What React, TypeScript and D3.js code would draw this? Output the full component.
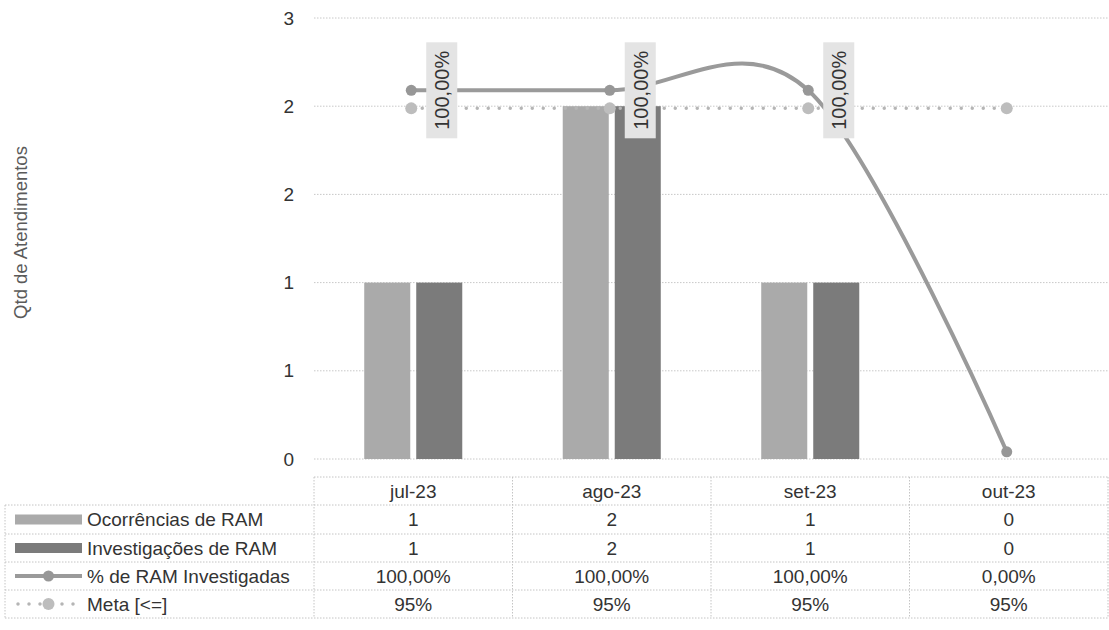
import React from "react";
import * as d3 from "d3";

const categories = ["jul-23", "ago-23", "set-23", "out-23"];
const ocorrencias = [1, 2, 1, 0];
const investigacoes = [1, 2, 1, 0];
const pctInvestigadas = [1, 1, 1, 0];
const meta = [0.95, 0.95, 0.95, 0.95];
const pctLabels = ["100,00%", "100,00%", "100,00%", "0,00%"];
const metaLabels = ["95%", "95%", "95%", "95%"];
const yTickValues = [0, 0.5, 1, 1.5, 2, 2.5];
const yTickLabels = ["0", "1", "1", "2", "2", "3"];
const seriesNames = ["Ocorrências de RAM", "Investigações de RAM", "% de RAM Investigadas", "Meta [<=]"];

const W = 1109;
const H = 630;
const FONT = "'Liberation Sans', Arial, sans-serif";

export default function App() {
  const plotLeft = 314;
  const plotRight = 1108;
  const plotTop = 18;
  const plotBottom = 459;

  const x = d3.scaleBand<string>().domain(categories).range([plotLeft, plotRight]).padding(0);
  const bw = x.bandwidth();
  const xs = d3.scaleBand<string>().domain(["o", "i"]).range([0, bw]).paddingInner(0.115).paddingOuter(0.966);
  const y = d3.scaleLinear().domain([0, 2.5]).range([plotBottom, plotTop]);
  const y2 = d3.scaleLinear().domain([-0.02, 1.2]).range([plotBottom, plotTop]);
  const cx = (c: string) => (x(c) as number) + bw / 2 - 2;

  const pctPts: [number, number][] = categories.map((c, i) => [cx(c), y2(pctInvestigadas[i])]);
  const metaPts: [number, number][] = categories.map((c, i) => [cx(c), y2(meta[i])]);
  const smooth = d3.line().curve(d3.curveCatmullRom.alpha(0));
  const straight = d3.line();

  const lightFill = "#aaaaaa";
  const darkFill = "#7b7b7b";
  const lineColor = "#9a9a9a";
  const metaColor = "#b5b5b5";
  const gridColor = "#c8c8c8";
  const textColor = "#333333";

  const tableLeft = 5;
  const headerTop = 477;
  const rowBounds = [505, 534, 562, 590, 618];
  const colEdges = [plotLeft, ...categories.map((c) => (x(c) as number) + bw)];
  const rowValues = [ocorrencias.map(String), investigacoes.map(String), pctLabels, metaLabels];
  const fs = 19;

  const keyX0 = 15;
  const keyX1 = 82;

  return (
    <div style={{ position: "absolute", left: 0, top: 0 }}>
      <svg width={W} height={H} style={{ display: "block", background: "#fff" }} fontFamily={FONT}>
        {yTickValues.map((v, i) => (
          <g key={"g" + i}>
            <line x1={plotLeft} x2={plotRight} y1={y(v)} y2={y(v)} stroke={gridColor} strokeWidth={1} strokeDasharray="1.5 1.5" />
            <text x={294} y={y(v)} textAnchor="end" dominantBaseline="central" fontSize={fs} fill={textColor}>
              {yTickLabels[i]}
            </text>
          </g>
        ))}

        <text
          transform={`translate(20, ${(plotTop + plotBottom) / 2 - 6}) rotate(-90)`}
          textAnchor="middle"
          dominantBaseline="central"
          fontSize={18.5}
          fill="#5a5a5a"
        >
          Qtd de Atendimentos
        </text>

        {categories.map((c, i) => (
          <g key={"b" + c}>
            {ocorrencias[i] > 0 && (
              <rect x={(x(c) as number) + (xs("o") as number)} y={y(ocorrencias[i])} width={xs.bandwidth()} height={y(0) - y(ocorrencias[i])} fill={lightFill} />
            )}
            {investigacoes[i] > 0 && (
              <rect x={(x(c) as number) + (xs("i") as number)} y={y(investigacoes[i])} width={xs.bandwidth()} height={y(0) - y(investigacoes[i])} fill={darkFill} />
            )}
          </g>
        ))}

        <path d={straight(metaPts) || ""} fill="none" stroke={metaColor} strokeWidth={3.5} strokeLinecap="round" strokeDasharray="0 11" />
        {metaPts.map((p, i) => (
          <circle key={"m" + i} cx={p[0]} cy={p[1]} r={6} fill="#bdbdbd" />
        ))}

        <path d={smooth(pctPts) || ""} fill="none" stroke={lineColor} strokeWidth={4} />
        {pctPts.map((p, i) => (
          <circle key={"p" + i} cx={p[0]} cy={p[1]} r={5.5} fill="#979797" />
        ))}

        {pctPts.slice(0, 3).map((p, i) => (
          <g key={"l" + i}>
            <rect x={p[0] + 15} y={p[1] - 48} width={31} height={96} fill="#e4e4e4" />
            <text
              transform={`translate(${p[0] + 31}, ${p[1]}) rotate(-90)`}
              textAnchor="middle"
              dominantBaseline="central"
              fontSize={20}
              fill={textColor}
            >
              {pctLabels[i]}
            </text>
          </g>
        ))}

        <g stroke="#c4c4c4" strokeWidth={1} strokeDasharray="1.5 1.5" fill="none">
          <line x1={plotLeft} x2={plotRight} y1={headerTop} y2={headerTop} />
          {rowBounds.map((yy, i) => (
            <line key={"rb" + i} x1={tableLeft} x2={plotRight} y1={yy} y2={yy} />
          ))}
          <line x1={tableLeft} x2={tableLeft} y1={rowBounds[0]} y2={rowBounds[rowBounds.length - 1]} />
          {colEdges.map((xx, i) => (
            <line key={"ce" + i} x1={xx} x2={xx} y1={headerTop} y2={rowBounds[rowBounds.length - 1]} />
          ))}
        </g>
        {categories.map((c) => (
          <text key={"h" + c} x={(x(c) as number) + bw / 2} y={(headerTop + rowBounds[0]) / 2} textAnchor="middle" dominantBaseline="central" fontSize={fs} fill={textColor}>
            {c}
          </text>
        ))}
        {rowValues.map((vals, r) => {
          const ym = (rowBounds[r] + rowBounds[r + 1]) / 2;
          return (
            <g key={"r" + r}>
              {vals.map((v, i) => (
                <text key={"v" + i} x={(x(categories[i]) as number) + bw / 2} y={ym} textAnchor="middle" dominantBaseline="central" fontSize={fs} fill={textColor}>
                  {v}
                </text>
              ))}
              <text x={87} y={ym} dominantBaseline="central" fontSize={fs} fill={textColor}>
                {seriesNames[r]}
              </text>
              {r === 0 && <rect x={keyX0} y={ym - 5} width={keyX1 - keyX0} height={10} fill={lightFill} />}
              {r === 1 && <rect x={keyX0} y={ym - 5} width={keyX1 - keyX0} height={10} fill={darkFill} />}
              {r === 2 && (
                <g>
                  <line x1={keyX0} x2={keyX1} y1={ym} y2={ym} stroke={lineColor} strokeWidth={4} />
                  <circle cx={(keyX0 + keyX1) / 2} cy={ym} r={5.5} fill="#979797" />
                </g>
              )}
              {r === 3 && (
                <g>
                  <line x1={keyX0 + 3} x2={keyX1} y1={ym} y2={ym} stroke={metaColor} strokeWidth={3.5} strokeLinecap="round" strokeDasharray="0 11" />
                  <circle cx={(keyX0 + keyX1) / 2} cy={ym} r={6} fill="#bdbdbd" />
                </g>
              )}
            </g>
          );
        })}
      </svg>
    </div>
  );
}
